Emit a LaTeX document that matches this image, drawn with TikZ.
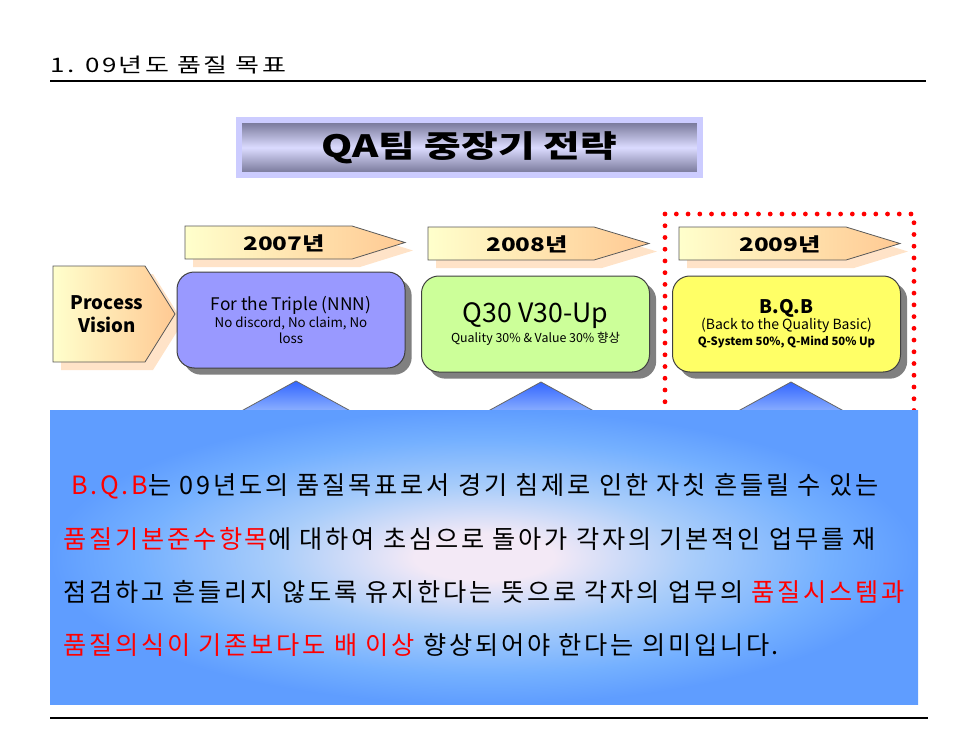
\documentclass[tikz,border=0pt]{standalone}
\usepackage{fontspec}
\setmainfont{Noto Sans CJK KR}
\newfontfamily\krwide[FakeStretch=1.3,LetterSpace=12]{Noto Sans CJK KR}
\newfontfamily\krhead[FakeStretch=1.3]{Noto Sans CJK KR}
\newfontfamily\krbody[LetterSpace=11]{Noto Sans CJK KR}
\usetikzlibrary{shadows}

\definecolor{boxblue}{HTML}{9999FF}
\definecolor{boxgreen}{HTML}{CCFF99}
\definecolor{boxyellow}{HTML}{FFFF66}
\definecolor{arrowlight}{HTML}{FFFFCC}
\definecolor{arrowpeach}{HTML}{FFC993}
\definecolor{peachshadow}{HTML}{FFE3C8}
\definecolor{lavender}{HTML}{CCCCFF}
\definecolor{slate}{HTML}{6F6F90}
\definecolor{glowcenter}{HTML}{F3E9F6}
\definecolor{glowmid}{HTML}{A9CDFA}
\definecolor{glowout}{HTML}{74B0FF}
\definecolor{glowedge}{HTML}{5F9DFF}
\definecolor{tipdark}{HTML}{3366FF}
\definecolor{tiplight}{HTML}{A6C6FF}

\pgfdeclareradialshading{glow}{\pgfpoint{0bp}{0bp}}{color(0bp)=(glowcenter); color(4bp)=(glowcenter); color(12bp)=(glowmid); color(20bp)=(glowout); color(25bp)=(glowedge); color(50bp)=(glowedge)}

\begin{document}
\begin{tikzpicture}[x=0.75pt,y=-0.75pt]

\tikzstyle{yeararrow} = [draw=black!65, line width=0.6pt, left color=arrowlight, right color=arrowpeach, drop shadow={shadow xshift=6pt, shadow yshift=-6pt, fill=peachshadow, opacity=1}]
\tikzstyle{goalbox} = [rectangle, rounded corners=13pt, draw=black!75, line width=0.75pt, minimum width=171pt, minimum height=72pt, align=center, drop shadow={shadow xshift=5pt, shadow yshift=-5pt, fill=black!50, opacity=1}]
\tikzstyle{pointer} = [draw=black!60, line width=0.6pt, top color=tipdark, bottom color=tiplight]
\tikzstyle{bodyline} = [anchor=west, inner sep=0pt, font=\krbody\fontsize{18.9}{22}\selectfont]

\def \hfont{\krwide\fontsize{15}{18}\selectfont}
\def \yfont{\krhead\bfseries\fontsize{14}{16}\selectfont}
\def \bfont{\fontsize{13}{16}\selectfont}
\def \sfont{\fontsize{10}{12}\selectfont}

\useasboundingbox (0,0) rectangle (958,740);

%Page heading and rules
\node[anchor=west, inner sep=0pt, font=\hfont] (heading) at (50,65) {1. 09년도 품질 목표};
\draw[line width=1pt] (50,81) -- (926,81);
\draw[line width=1pt] (50,718) -- (928,718);

%Strategy title bar
\node[draw=lavender, line width=4.5pt, top color=slate, bottom color=slate, middle color=lavender!70!white, minimum width=346pt, minimum height=41.6pt, font=\krhead\bfseries\fontsize{23}{26}\selectfont] (strategy) at (469.5,147.5) {QA팀 중장기 전략};

%Red dotted frame round 2009
\draw[red, line width=3.6pt, line cap=round, dash pattern=on 0pt off 8.8pt] (665,214) rectangle (914,440);

%Year arrows
\draw[yeararrow] (185,226) -- (352,226) -- (405,242.5) -- (352,259) -- (185,259) -- cycle;
\node[font=\yfont] (y07) at (284,243) {2007년};
\draw[yeararrow] (428,227) -- (594,227) -- (649,243.5) -- (594,260) -- (428,260) -- cycle;
\node[font=\yfont] (y08) at (527,244) {2008년};
\draw[yeararrow] (679,227) -- (846,227) -- (900,243.5) -- (846,260) -- (679,260) -- cycle;
\node[font=\yfont] (y09) at (780,244) {2009년};

%Process vision arrow
\draw[yeararrow] (53,266) -- (145,266) -- (175,314) -- (145,362) -- (53,362) -- cycle;
\node[align=center, font=\bfseries\fontsize{14}{17}\selectfont] (vision) at (107,314) {Process\\Vision};

%Goal boxes
\node[goalbox, fill=boxblue] (nnn) at (291,320) {{\bfont For the Triple (NNN)}\\[1pt]{\sfont No discord, No claim, No}\\{\sfont loss}};
\node[goalbox, fill=boxgreen] (qv) at (535.5,324) {{\fontsize{20}{22}\selectfont Q30 V30-Up}\\[1pt]{\fontsize{9.3}{11}\selectfont Quality 30\% \& Value 30\% 향상}};
\node[goalbox, fill=boxyellow] (bqb) at (786.5,324) {{\bfseries\fontsize{14}{16}\selectfont B.Q.B}\\{\fontsize{10.5}{12}\selectfont (Back to the Quality Basic)}\\{\bfseries\fontsize{8.5}{10}\selectfont Q-System 50\%, Q-Mind 50\% Up}};

%Pointers under the boxes
\draw[pointer] (296,381) -- (367,420) -- (225,420) -- cycle;
\draw[pointer] (541,382) -- (612,421) -- (470,421) -- cycle;
\draw[pointer] (791,382) -- (862,421) -- (720,421) -- cycle;

%Explanation panel
\node[shading=glow, minimum width=651pt, minimum height=220.5pt, inner sep=0pt] (panel) at (484,557) {};
\node[bodyline] (line1) at (71,486) {{\color{red}B.Q.B}는 09년도의 품질목표로서 경기 침제로 인한 자칫 흔들릴 수 있는};
\node[bodyline] (line2) at (63,539) {{\color{red}품질기본준수항목}에 대하여 초심으로 돌아가 각자의 기본적인 업무를 재};
\node[bodyline] (line3) at (63,592) {점검하고 흔들리지 않도록 유지한다는 뜻으로 각자의 업무의 {\color{red}품질시스템과}};
\node[bodyline] (line4) at (63,645) {{\color{red}품질의식이 기존보다도 배 이상} 향상되어야 한다는 의미입니다.};

\end{tikzpicture}
\end{document}
